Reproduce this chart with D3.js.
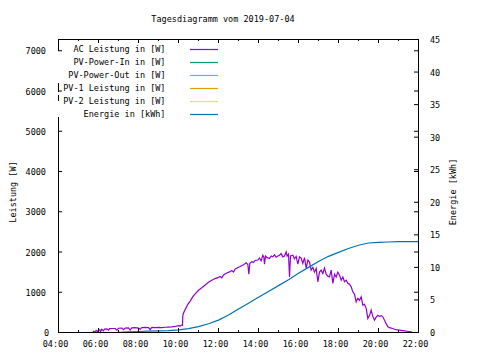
<!DOCTYPE html>
<html><head><meta charset="utf-8">
<script src="https://cdn.jsdelivr.net/npm/d3@7"></script>
<style>
html,body{margin:0;padding:0;background:#fff;}
svg text{font-family:"DejaVu Sans Mono",monospace;font-size:8.5px;fill:#000;}
</style></head><body>
<svg id="chart" width="480" height="360"></svg>
<script>
const title = "Tagesdiagramm vom 2019-07-04";
const yTitle = "Leistung [W]";
const y2Title = "Energie [kWh]";
const xTickLabels = ["04:00","06:00","08:00","10:00","12:00","14:00","16:00","18:00","20:00","22:00"];
const xMinorLabels = ["05:00","07:00","09:00","11:00","13:00","15:00","17:00","19:00","21:00"];
const yTicks = [0,1000,2000,3000,4000,5000,6000,7000];
const y2Ticks = [0,5,10,15,20,25,30,35,40,45];
const legendLabels = ["AC Leistung in [W]","PV-Power-In in [W]","PV-Power-Out in [W]","PV-1 Leistung in [W]","PV-2 Leistung in [W]","Energie in [kWh]"];
const legendColors = ["#9400d3","#009e73","#56b4e9","#e69f00","#f0e442","#0072b2"];

const acTimes = ["05:43","05:46","05:50","05:53","05:57","06:00","06:04","06:06","06:10","06:15","06:18","06:25","06:30","06:33","06:40","06:50","06:55","07:00","07:10","07:15","07:20","07:30","07:35","07:40","07:50","08:00","08:05","08:10","08:20","08:30","08:35","08:40","08:50","09:00","09:10","09:20","09:30","09:40","09:50","10:00","10:05","10:10","10:12","10:13","10:17","10:22","10:28","10:35","10:42","10:50","11:00","11:10","11:20","11:30","11:40","11:50","12:00","12:05","12:10","12:15","12:25","12:33","12:40","12:45","12:50","13:00","13:05","13:12","13:18","13:23","13:28","13:31","13:34","13:40","13:45","13:50","13:58","14:03","14:08","14:13","14:16","14:18","14:21","14:26","14:33","14:38","14:43","14:48","14:53","14:58","15:03","15:08","15:13","15:18","15:23","15:26","15:30","15:33","15:36","15:43","15:48","15:53","15:58","16:03","16:08","16:13","16:18","16:23","16:28","16:33","16:38","16:43","16:48","16:53","16:58","17:03","17:08","17:13","17:18","17:23","17:28","17:33","17:38","17:43","17:48","17:53","17:58","18:03","18:08","18:13","18:18","18:23","18:28","18:33","18:38","18:43","18:48","18:53","18:58","19:03","19:08","19:13","19:18","19:23","19:28","19:33","19:38","19:43","19:48","19:53","19:58","20:03","20:08","20:13","20:18","20:23","20:28","20:33","20:38","20:43","20:48","20:53","21:03","21:13","21:23","21:30","21:38","21:41"];
const acWatts = [0,30,10,50,20,60,70,10,80,40,85,90,60,95,100,100,60,105,110,70,110,115,60,115,120,110,80,120,125,120,70,125,120,125,120,130,135,140,150,170,160,190,180,430,520,600,700,780,880,960,1050,1110,1180,1250,1300,1340,1370,1390,1360,1430,1480,1505,1540,1500,1580,1620,1640,1670,1700,1730,1690,1450,1720,1760,1740,1790,1800,1850,1780,1920,1880,1700,1900,1860,1840,1900,1880,1930,1870,1900,1920,1960,1880,1900,2000,1900,1950,1380,1900,1920,1830,1890,1700,1880,1850,1715,1860,1600,1800,1750,1550,1620,1500,1590,1260,1500,1550,1465,1600,1450,1400,1380,1550,1220,1450,1380,1500,1425,1300,1380,1260,1300,1220,1200,1135,1010,950,760,850,800,885,680,700,600,350,420,555,400,305,380,430,400,420,390,305,220,140,120,110,100,80,70,57,45,32,25,15,0];

const energyTimes = ["06:54","07:30","08:00","08:30","09:00","09:30","10:00","10:30","11:00","11:30","12:00","12:30","13:00","13:30","14:00","14:30","15:00","15:30","16:00","16:30","17:00","17:30","18:00","18:30","19:00","19:30","20:00","20:30","21:00","21:30","22:00"];
const energyKWh = [0.0,0.1,0.15,0.2,0.25,0.3,0.4,0.6,0.9,1.35,1.9,2.7,3.6,4.5,5.4,6.3,7.2,8.1,9.1,10.0,10.9,11.7,12.3,12.9,13.4,13.75,13.85,13.9,13.95,13.95,13.95];

const svg = d3.select("#chart");
const L = 58, R = 418, T = 39, B = 332;
const toH = s => { const [h, m] = s.split(":").map(Number); return h + m / 60; };
const x = d3.scaleLinear().domain([4, 22]).range([L, R]);
const y = d3.scaleLinear().domain([0, 7280]).range([B, T]);
const y2 = d3.scaleLinear().domain([0, 45]).range([B, T]);

// data lines
const acLine = d3.line().x(d => x(d[0]) + 0.5).y(d => y(d[1]) + 0.5);
svg.append("path")
  .datum(acTimes.map((t, i) => [toH(t), acWatts[i]]))
  .attr("d", acLine).attr("fill", "none").attr("stroke", legendColors[0]).attr("stroke-width", 1.2);
const enLine = d3.line().x(d => x(d[0]) + 0.5).y(d => y2(d[1]) + 0.5);
svg.append("path")
  .datum(energyTimes.map((t, i) => [toH(t), energyKWh[i]]))
  .attr("d", enLine).attr("fill", "none").attr("stroke", legendColors[5]).attr("stroke-width", 1.2);

// key
svg.append("rect").attr("x", 50).attr("y", 41).attr("width", 172).attr("height", 78).attr("fill", "#fff");
const key = svg.append("g");
legendLabels.forEach((lab, i) => {
  const ly = 49.5 + i * 13;
  key.append("text").attr("x", 165.5).attr("y", ly + 2).attr("text-anchor", "end").text(lab);
  key.append("line").attr("x1", 190).attr("x2", 218).attr("y1", ly).attr("y2", ly)
    .attr("stroke", legendColors[i]).attr("stroke-width", 1.2);
});

// border
const bc = "#000";
const seg = (x1, y1, x2, y2_) => svg.append("line").attr("x1", x1).attr("y1", y1).attr("x2", x2).attr("y2", y2_).attr("stroke", bc).attr("stroke-width", 1);
seg(L, T + 0.5, R + 1, T + 0.5);
seg(L, B + 0.5, R + 1, B + 0.5);
seg(R + 0.5, T, R + 0.5, B + 1);
[[T, 51], [83, 92], [95, 101], [117, B + 1]].forEach(s => seg(L + 0.5, s[0], L + 0.5, s[1]));

// axes
const cleanup = g => { g.select(".domain").remove(); g.selectAll("line").attr("stroke", "#000"); };
const xMaj = xTickLabels.map(toH), xMin = xMinorLabels.map(toH);
svg.append("g").attr("transform", `translate(0,${B})`)
  .call(d3.axisBottom(x).tickValues(xMaj).tickSize(-4).tickFormat((d, i) => xTickLabels[i]))
  .call(cleanup)
  .call(g => g.selectAll("text").attr("y", 15).attr("dy", 0).attr("dx", -3)
    .style("font-family", '"DejaVu Sans Mono",monospace').style("font-size", "8.5px").attr("fill", "#000"));
svg.append("g").attr("transform", `translate(0,${B})`)
  .call(d3.axisBottom(x).tickValues(xMin).tickSize(-2).tickFormat("")).call(cleanup);
svg.append("g").attr("transform", `translate(0,${T})`)
  .call(d3.axisTop(x).tickValues(xMaj).tickSize(-4).tickFormat("")).call(cleanup);
svg.append("g").attr("transform", `translate(0,${T})`)
  .call(d3.axisTop(x).tickValues(xMin).tickSize(-2).tickFormat("")).call(cleanup);

svg.append("g").attr("transform", `translate(${L},0)`)
  .call(d3.axisLeft(y).tickValues(yTicks).tickSize(-4).tickFormat(d3.format("d")))
  .call(cleanup)
  .call(g => g.selectAll("text").attr("x", -12).attr("dy", 0).attr("y", 3.5).attr("dx", d => d === 0 ? 3 : 0)
    .style("font-family", '"DejaVu Sans Mono",monospace').style("font-size", "8.5px").attr("fill", "#000"));
svg.append("g").attr("transform", `translate(${R},0)`)
  .call(d3.axisRight(y).tickValues(yTicks).tickSize(-4).tickFormat("")).call(cleanup);
svg.append("g").attr("transform", `translate(${R},0)`)
  .call(d3.axisRight(y2).tickValues(y2Ticks).tickSize(-4).tickFormat(d3.format("d")))
  .call(cleanup)
  .call(g => g.selectAll("text").attr("x", 12).attr("dy", 0).attr("y", 3.5).attr("text-anchor", "start")
    .style("font-family", '"DejaVu Sans Mono",monospace').style("font-size", "8.5px").attr("fill", "#000"));

// titles
svg.append("text").attr("x", 223).attr("y", 21.5).attr("text-anchor", "middle").text(title);
svg.append("text").attr("transform", "translate(15.5,192) rotate(-90)").attr("text-anchor", "middle").text(yTitle);
svg.append("text").attr("transform", "translate(455.5,192) rotate(-90)").attr("text-anchor", "middle").text(y2Title);
</script>
</body></html>
